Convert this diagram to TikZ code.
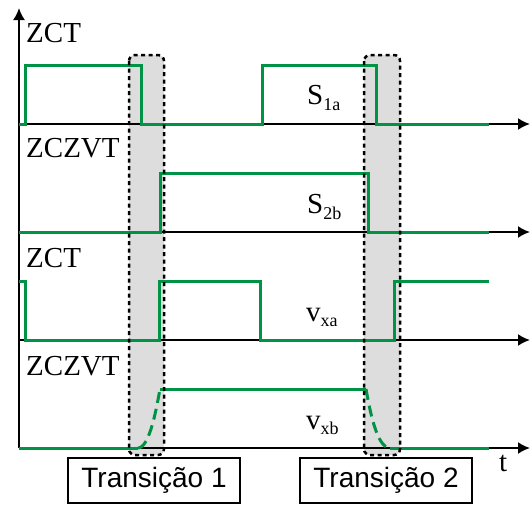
\documentclass[tikz,border=0pt]{standalone}
\usepackage{fontspec}
\setmainfont{Liberation Serif}
\newfontfamily\timesf{Liberation Serif}
\newfontfamily\arialf{Liberation Sans}
\usetikzlibrary{arrows.meta}
\definecolor{wgreen}{RGB}{0,146,69}
\definecolor{tgray}{RGB}{221,221,221}
\begin{document}
\begin{tikzpicture}[x=1pt,y=-1pt,
  axisline/.style={line width=2pt,-{Latex[length=12pt,width=12pt]}},
  wave/.style={wgreen,line width=3pt},
  wavedash/.style={wgreen,line width=3pt,dash pattern=on 11pt off 6pt},
  transfill/.style={fill=tgray,rounded corners=6pt},
  transborder/.style={draw=black,line width=2.5pt,dash pattern=on 4pt off 3.5pt,rounded corners=6pt},
  lab/.style={anchor=base west,inner sep=0pt,font=\timesf\fontsize{29}{30}\selectfont},
  sig/.style={anchor=base west,inner sep=0pt,font=\timesf\fontsize{29}{30}\selectfont},
  tbox/.style={draw=black,line width=2pt,minimum width=172pt,minimum height=45pt,inner sep=0pt,font=\arialf\fontsize{28}{30}\selectfont}
]
\useasboundingbox (0,0) rectangle (530,504);
% transition shading
\fill[transfill] (129,55) rectangle (164,455);
\fill[transfill] (364,55) rectangle (400,455);
% axes
\coordinate (o) at (19,448);
\coordinate (ytop) at (19,8);
\draw[axisline] (o) -- (ytop);
\foreach \yy/\nm in {124/a,232/b,340/c,448/d}{
  \coordinate (s\nm) at (19,\yy);
  \coordinate (e\nm) at (530,\yy);
  \draw[axisline] (s\nm) -- (e\nm);
}
% waveforms
\draw[wave] (19,124) -- (25,124) -- (25,65) -- (141,65) -- (141,124) -- (262,124) -- (262,65) -- (376,65) -- (376,124) -- (489,124);
\draw[wave] (19,232) -- (160,232) -- (160,173) -- (368,173) -- (368,232) -- (489,232);
\draw[wave] (19,281) -- (25,281) -- (25,340) -- (159,340) -- (159,281) -- (260,281) -- (260,340) -- (394,340) -- (394,281) -- (489,281);
\draw[wave] (19,448) -- (138,448);
\draw[wavedash] (138,448) .. controls (150,448) and (157,405) .. (160,389);
\draw[wave] (160,389) -- (366,389);
\draw[wavedash] (366,389) .. controls (369,405) and (376,448) .. (390,448);
\draw[wave] (390,448) -- (489,448);
% borders
\draw[transborder] (129,55) rectangle (164,455);
\draw[transborder] (364,55) rectangle (400,455);
% labels
\node[lab] (l1) at (26,42) {ZCT};
\node[lab] (l2) at (26,157) {ZCZVT};
\node[lab] (l3) at (26,267) {ZCT};
\node[lab] (l4) at (26,375) {ZCZVT};
\node[sig] (s1) at (307,104) {S\raisebox{-6pt}{\fontsize{18}{18}\selectfont 1a}};
\node[sig] (s2) at (307,213) {S\raisebox{-6pt}{\fontsize{18}{18}\selectfont 2b}};
\node[sig] (s3) at (306,321) {v\raisebox{-5pt}{\fontsize{18}{18}\selectfont xa}};
\node[sig] (s4) at (306,429) {v\raisebox{-5pt}{\fontsize{18}{18}\selectfont xb}};
\node[lab] (tl) at (499,471) {t};
\node[tbox] (t1) at (154,480.5) {Transição 1};
\node[tbox] (t2) at (386,480.5) {Transição 2};
\end{tikzpicture}
\end{document}
